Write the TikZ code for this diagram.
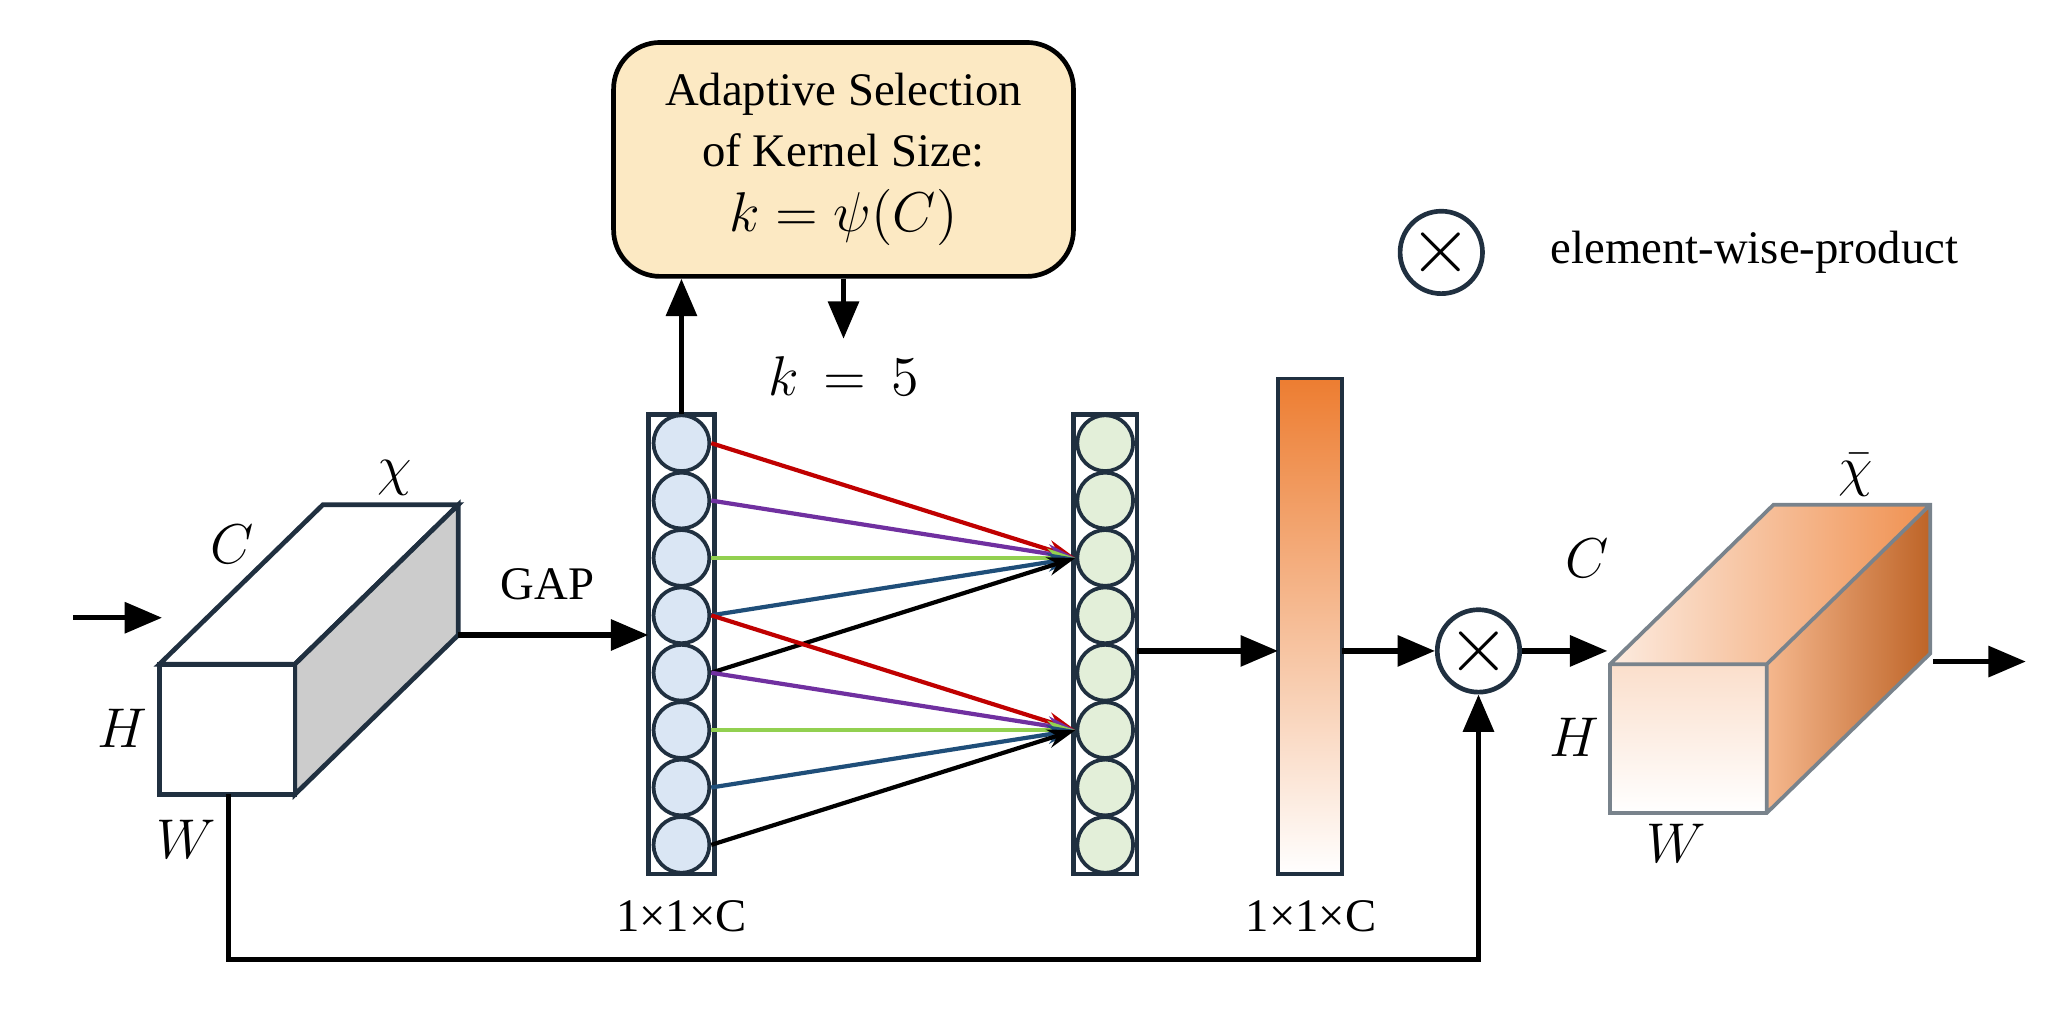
\documentclass[tikz,border=0pt]{standalone}
\usepackage{fontspec}
\setmainfont{Liberation Serif}
\usetikzlibrary{arrows.meta,shadings}
\definecolor{boxfill}{HTML}{FCE9C3}
\definecolor{blueC}{HTML}{DAE6F4}
\definecolor{greenC}{HTML}{E3EFD9}
\definecolor{orng}{HTML}{ED7D31}
\definecolor{lred}{HTML}{C00000}
\definecolor{lpur}{HTML}{7030A0}
\definecolor{lgrn}{HTML}{92D050}
\definecolor{lblu}{HTML}{1F4E79}
\definecolor{edge}{HTML}{203040}
\begin{document}
\begin{tikzpicture}[x=0.01cm,y=-0.01cm,
  arr/.style={-{Triangle[length=8pt,width=6.5pt]},line width=1.1pt},
  conn/.style={-{Stealth[length=6pt,width=4pt]},line width=0.9pt},
  cb/.style={circle,draw=edge,line width=0.8pt,inner sep=0,minimum size=0.42cm},
  lab/.style={font=\fontsize{11.5}{14}\selectfont},
  txt/.style={font=\fontsize{10}{13}\selectfont}]
\useasboundingbox (0,0) rectangle (1550,759);
% top box
\node[draw=black,line width=1pt,rounded corners=0.35cm,fill=boxfill,minimum width=3.46cm,minimum height=1.76cm,align=center,txt] (asel) at (635,120) {Adaptive Selection\\of Kernel Size:\\[1pt] {\fontsize{12}{14}\selectfont$k=\psi(C)$}};
% legend
\node[circle,draw=edge,line width=1pt,minimum size=0.54cm,inner sep=0] (leg) at (1085,190) {\fontsize{16}{16}\selectfont$\times$};
\node[txt,anchor=west] (legt) at (1155,190) {element-wise-product};
% left cube
\coordinate (in0) at (55,465);
\filldraw[fill=white,draw=edge,line width=1pt] (120,500) -- (243,380) -- (345,380) -- (222,500) -- cycle;
\filldraw[fill=gray!40,draw=edge,line width=1pt] (222,500) -- (345,380) -- (345,478) -- (222,598) -- cycle;
\filldraw[fill=white,draw=edge,line width=1pt] (120,500) rectangle (222,598);
\coordinate (cin) at (122,465);
\draw[arr] (in0) -- (cin);
\node[lab] (lC) at (175,410) {$C$};
\node[lab] (lchi) at (297,360) {$\chi$};
\node[lab] (lH) at (92,548) {$H$};
\node[lab] (lW) at (140,632) {$W$};
% columns
\draw[draw=edge,line width=1pt,fill=white] (488,312) rectangle (538,658);
\foreach \i in {1,...,8} \node[cb,fill=blueC] (L\i) at (513,{312+21.6*(2*\i-1)}) {};
\draw[draw=edge,line width=1pt,fill=white] (808,312) rectangle (856,658);
\foreach \i in {1,...,8} \node[cb,fill=greenC] (R\i) at (832,{312+21.6*(2*\i-1)}) {};
\coordinate (gapS) at (345,478);
\coordinate (gapE) at (488,478);
\draw[arr] (gapS) -- (gapE);
\node[txt] (gapl) at (412,440) {GAP};
\draw[arr] (513,312) -- (asel.south -| 513,0);
\draw[arr] (asel.south -| 635,0) -- (635,255);
\node[lab] (k5) at (635,283) {$k\,=\,5$};
% connections
\draw[conn,lred] (L1.east) -- (R3.west);
\draw[conn,lpur] (L2.east) -- (R3.west);
\draw[conn,lgrn] (L3.east) -- (R3.west);
\draw[conn,lblu] (L4.east) -- (R3.west);
\draw[conn,black] (L5.east) -- (R3.west);
\draw[conn,lred] (L4.east) -- (R6.west);
\draw[conn,lpur] (L5.east) -- (R6.west);
\draw[conn,lgrn] (L6.east) -- (R6.west);
\draw[conn,lblu] (L7.east) -- (R6.west);
\draw[conn,black] (L8.east) -- (R6.west);
\node[txt] (c1) at (513,690) {1×1×C};
% orange bar
\shade[top color=orng,bottom color=white] (962,285) rectangle (1010,658);
\draw[draw=edge,line width=0.8pt] (962,285) rectangle (1010,658);
\node[txt] (c2) at (987,690) {1×1×C};
\draw[arr] (856,490) -- (962,490);
\node[circle,draw=edge,line width=1pt,fill=white,minimum size=0.54cm,inner sep=0] (mul) at (1113,490) {\fontsize{16}{16}\selectfont$\times$};
\draw[arr] (1010,490) -- (mul.west);
\coordinate (skip0) at (172,598);
\draw[arr] (skip0) -- (172,722) -- (1113,722) -- (mul.south);
% right cube
\draw[arr] (mul.east) -- (1210,490);
\shade[left color=orng!15, right color=orng!85] (1212,500) -- (1335,380) -- (1453,380) -- (1330,500) -- cycle;
\shade[left color=orng!55, right color=orng!80!black] (1330,500) -- (1453,380) -- (1453,492) -- (1330,612) -- cycle;
\shade[top color=orng!25, bottom color=white] (1212,500) rectangle (1330,612);
\draw[draw=edge!60,line width=0.8pt] (1212,500) -- (1335,380) -- (1453,380) -- (1453,492) -- (1330,612) -- (1212,612) -- cycle (1212,500) -- (1330,500) -- (1453,380) (1330,500) -- (1330,612);
\node[lab] (rC) at (1195,420) {$C$};
\node[lab] (rchi) at (1397,358) {$\bar{\chi}$};
\node[lab] (rH) at (1185,555) {$H$};
\node[lab] (rW) at (1262,635) {$W$};
\coordinate (out0) at (1455,498);
\coordinate (out1) at (1525,498);
\draw[arr] (out0) -- (out1);
\end{tikzpicture}
\end{document}
